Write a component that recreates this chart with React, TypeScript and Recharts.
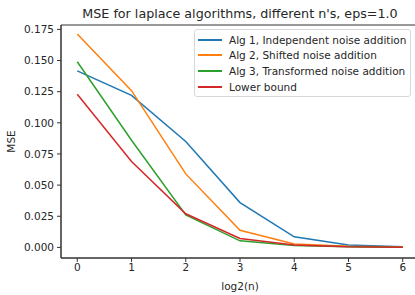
import { LineChart, Line, XAxis, YAxis, ReferenceArea } from "recharts";

const LOG2N = [0, 1, 2, 3, 4, 5, 6];
const ALG1 = [0.1417, 0.122, 0.085, 0.036, 0.0085, 0.002, 0.0006];
const ALG2 = [0.1712, 0.1258, 0.059, 0.0137, 0.0027, 0.001, 0.0003];
const ALG3 = [0.149, 0.086, 0.026, 0.0053, 0.0015, 0.0005, 0.0001];
const LOWER = [0.1229, 0.069, 0.027, 0.0072, 0.002, 0.0006, 0.0002];
const X_TICKS = [0, 1, 2, 3, 4, 5, 6];
const Y_TICKS = [0, 0.025, 0.05, 0.075, 0.1, 0.125, 0.15, 0.175];

const SERIES = [
  { key: "alg1", name: "Alg 1, Independent noise addition", color: "#1f77b4" },
  { key: "alg2", name: "Alg 2, Shifted noise addition", color: "#ff7f0e" },
  { key: "alg3", name: "Alg 3, Transformed noise addition", color: "#2ca02c" },
  { key: "lower", name: "Lower bound", color: "#d62728" },
];

const data = LOG2N.map((x, i) => ({
  x,
  alg1: ALG1[i],
  alg2: ALG2[i],
  alg3: ALG3[i],
  lower: LOWER[i],
}));

const FONT = "'DejaVu Sans', sans-serif";
const tickStyle = { fontSize: 10.5, fill: "#262626", fontFamily: FONT };

const LegendBox = () => (
  <div
    style={{
      position: "absolute",
      top: 29,
      left: 194,
      border: "1px solid #d8d8d8",
      borderRadius: 3,
      background: "rgba(255,255,255,0.8)",
      padding: "2px 4px 2px 3px",
      fontFamily: FONT,
      fontSize: 10.5,
      color: "#262626",
    }}
  >
    {SERIES.map((s) => (
      <div key={s.key} style={{ display: "flex", alignItems: "center", height: 15.6 }}>
        <span style={{ display: "inline-block", width: 24, height: 2, background: s.color, marginRight: 7, flexShrink: 0 }} />
        <span style={{ whiteSpace: "nowrap" }}>{s.name}</span>
      </div>
    ))}
  </div>
);

const App = () => {
  return (
    <div style={{ position: "absolute", top: 0, left: 0, width: 415, height: 295, overflow: "hidden", background: "#fff" }}>
      <div
        style={{
          position: "absolute",
          top: 6,
          left: 61,
          width: 358,
          textAlign: "center",
          fontFamily: FONT,
          fontSize: 12.7,
          color: "#262626",
          whiteSpace: "nowrap",
        }}
      >
        MSE for laplace algorithms, different n's, eps=1.0
      </div>
      <LineChart width={420} height={295} data={data} margin={{ top: 25, right: 1, bottom: 0, left: 0 }}>
        <XAxis
          dataKey="x"
          type="number"
          domain={[-0.3, 6.3]}
          ticks={X_TICKS}
          tick={tickStyle}
          tickSize={4}
          tickMargin={2}
          height={37}
          stroke="#333"
          label={{ value: "log2(n)", position: "insideBottom", offset: 5, style: tickStyle }}
        />
        <YAxis
          type="number"
          domain={[-0.0085, 0.1785]}
          ticks={Y_TICKS}
          tickFormatter={(v: number) => v.toFixed(3)}
          tick={tickStyle}
          tickSize={4}
          tickMargin={3}
          width={61}
          stroke="#333"
          label={{ value: "MSE", angle: -90, position: "insideLeft", offset: 11, style: { ...tickStyle, textAnchor: "middle" } }}
        />
        <ReferenceArea x1={-0.3} x2={6.3} y1={-0.0085} y2={0.1785} fill="none" stroke="#333" strokeWidth={1} />
        {SERIES.map((s) => (
          <Line
            key={s.key}
            dataKey={s.key}
            name={s.name}
            stroke={s.color}
            strokeWidth={1.5}
            dot={false}
            type="linear"
            isAnimationActive={false}
          />
        ))}
      </LineChart>
      <LegendBox />
    </div>
  );
};

export default App;
